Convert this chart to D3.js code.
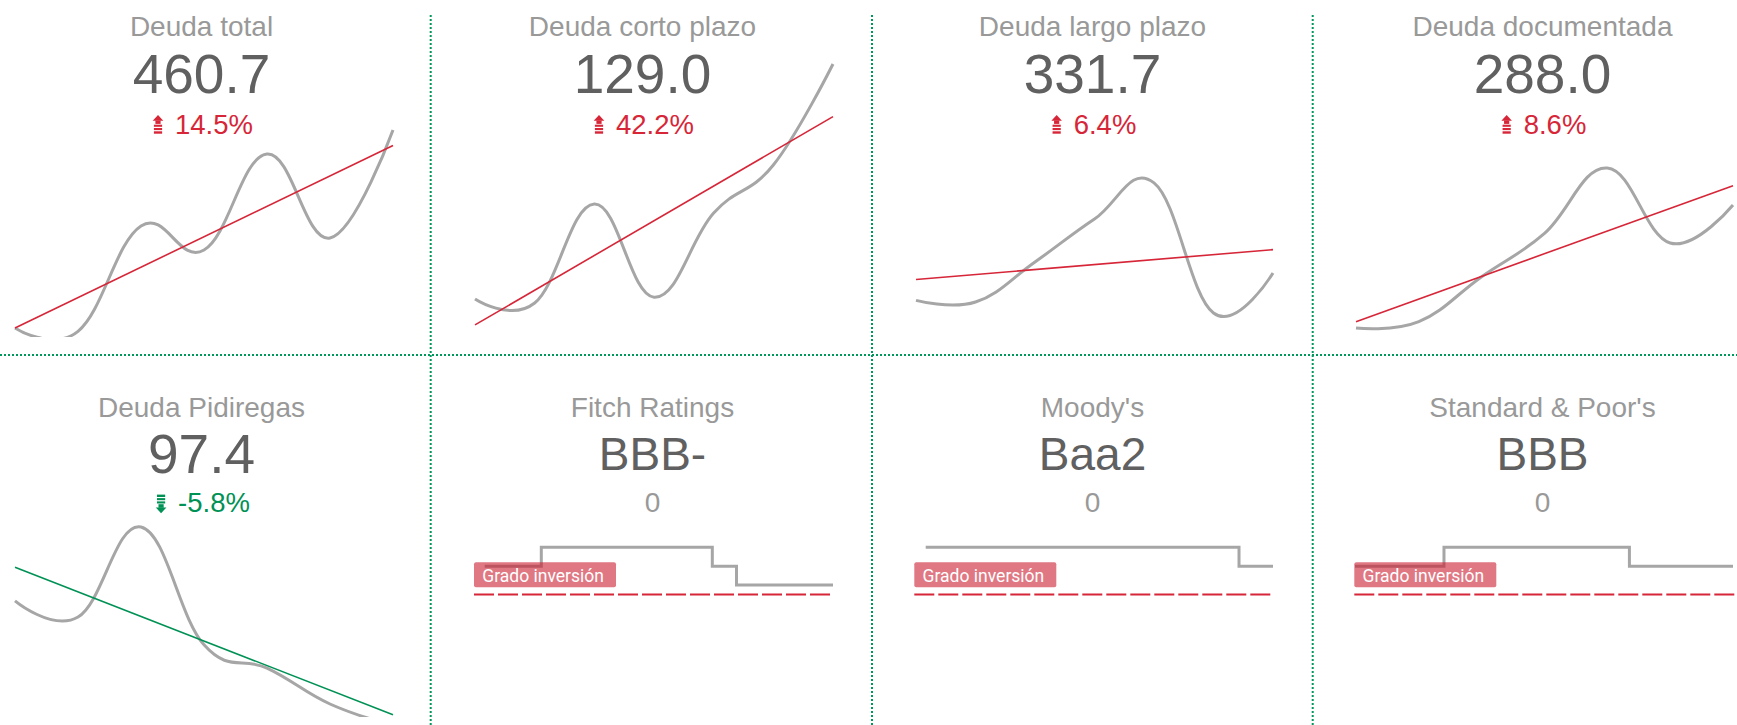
<!DOCTYPE html>
<html><head><meta charset="utf-8">
<script src="https://cdn.jsdelivr.net/npm/d3@7"></script>
<style>html,body{margin:0;padding:0;background:#fff;overflow:hidden}</style>
</head><body>
<svg id="c" width="1737" height="725"></svg>
<script>
// ---------- DATA ----------
const periodos = ["2017","2018","2019","2020","2021","2022","2023"];
const titulosDeuda = ["Deuda total","Deuda corto plazo","Deuda largo plazo","Deuda documentada","Deuda Pidiregas"];
const valoresActuales = ["460.7","129.0","331.7","288.0","97.4"];
const cambiosDeuda = ["14.5%","42.2%","6.4%","8.6%","-5.8%"];
const deudaTotal       = [353.8, 352.0, 408.9, 395.9, 447.7, 402.4, 460.7];
const deudaCortoPlazo  = [39.9, 38.4, 75.9, 40.6, 72.5, 90.7, 129.0];
const deudaLargoPlazo  = [318.0, 317.2, 337.2, 358.6, 376.6, 311.75, 331.7];
const deudaDocumentada = [214.2, 218.0, 245.0, 271.0, 310.2, 265.2, 288.0];
const deudaPidiregas   = [132.7, 128.1, 153.7, 120.2, 113.6, 103.4, 97.4];
const seriesDeuda = [deudaTotal, deudaCortoPlazo, deudaLargoPlazo, deudaDocumentada, deudaPidiregas];

const titulosCalif = ["Fitch Ratings","Moody's","Standard & Poor's"];
const califActual = ["BBB-","Baa2","BBB"];
const cambiosCalif = ["0","0","0"];
const fitchFechas  = ["2011-03-07","2013-03-25","2019-06-05","2020-04-20","2023-10-19"];
const fitchNotas   = ["BBB","BBB+","BBB","BBB-","BBB-"];
const moodysFechas = ["2011-03-07","2022-07-25","2023-10-19"];
const moodysNotas  = ["Baa1","Baa2","Baa2"];
const spFechas     = ["2011-03-07","2014-02-24","2020-05-04","2023-10-19"];
const spNotas      = ["BBB","BBB+","BBB","BBB"];
const escalaSyF = ["BBB-","BBB","BBB+"];     // levels 1..3
const escalaMoodys = ["Baa3","Baa2","Baa1"]; // levels 1..3
const umbralGrado = 0.5;
const etiquetaUmbral = "Grado inversión";
const fechasDominio = ["2011-03-07","2023-10-19"];

// ---------- LAYOUT / STYLE ----------
const W = 1737, H = 725;
const RED = "#d62638", GREEN = "#009155", GRAY = "#a6a6a6";
const SANS = "'Liberation Sans', Arial, Helvetica, sans-serif";
const filas = [
  {titulo:36.3, valor:93.3, cambio:133.5, base:336.5, corte:337},
  {titulo:416.7, valor:473.3, cambio:511.8, base:716.5, corte:717, calif:470, cero:512.3}
];
const panelesDeuda = [
  {fila:0, cx:201.5,  x0:15,   x1:393,  dom:[349.2,498.5]},
  {fila:0, cx:642.5,  x0:475,  x1:833,  dom:[25.7,130.5]},
  {fila:0, cx:1092.5, x0:916,  x1:1273, dom:[300.0,437.9]},
  {fila:0, cx:1542.5, x0:1356, x1:1733, dom:[209.1,375.0]},
  {fila:1, cx:201.5,  x0:15,   x1:393,  dom:[99.85,178.4]}
];
const panelesCalif = [
  {cx:652.5,  plot:[474,833],     serie:[484.7,833],  fechas:fitchFechas,  notas:fitchNotas,  escala:escalaSyF},
  {cx:1092.5, plot:[914.3,1273],  serie:[925.7,1273], fechas:moodysFechas, notas:moodysNotas, escala:escalaMoodys},
  {cx:1542.5, plot:[1354.3,1745], serie:[1355,1733],  fechas:spFechas,     notas:spNotas,     escala:escalaSyF}
];

const svg = d3.select("#c");
const defs = svg.append("defs");

// grid (dotted green separators)
const grid = svg.append("g").attr("stroke","#00995c").attr("stroke-width",2).attr("stroke-dasharray","2,2");
grid.append("line").attr("x1",0).attr("x2",W).attr("y1",355).attr("y2",355);
[430.7, 872, 1312.7].forEach(x => grid.append("line").attr("x1",x).attr("x2",x).attr("y1",15).attr("y2",H));

function icono(g, x, base, up, color) {
  const gi = g.append("g").attr("fill", color);
  if (up) {
    const t = base - 18.4;
    gi.append("path").attr("d", `M${x-0.3},${t+5.6}L${x+5},${t}L${x+10.3},${t+5.6}Z`);
    gi.append("rect").attr("x",x+2.4).attr("y",t+5.4).attr("width",5.2).attr("height",3.4);
    [[9.6,2.1],[12.9,2.1],[16.2,2.4]].forEach(([o,h]) => gi.append("rect").attr("x",x+0.9).attr("y",t+o).attr("width",8.2).attr("height",h));
  } else {
    const t = base - 17.2;
    [[0,2.4],[3.5,2.1],[6.8,2.1]].forEach(([o,h]) => gi.append("rect").attr("x",x+0.9).attr("y",t+o).attr("width",8.2).attr("height",h));
    gi.append("rect").attr("x",x+2.4).attr("y",t+9.6).attr("width",5.2).attr("height",3.6);
    gi.append("path").attr("d", `M${x-0.3},${t+12.9}L${x+5},${t+18.6}L${x+10.3},${t+12.9}Z`);
  }
}

function encabezado(cx, fila, titulo, valor, valSize, valBase) {
  svg.append("text").attr("x",cx).attr("y",fila.titulo).attr("text-anchor","middle")
    .attr("font-family",SANS).attr("font-size",28).attr("fill","#999").text(titulo);
  svg.append("text").attr("x",cx).attr("y",valBase).attr("text-anchor","middle")
    .attr("font-family",SANS).attr("font-size",valSize).attr("fill","#606060").text(valor);
}

// ---------- DEBT PANELS ----------
panelesDeuda.forEach((P, i) => {
  const fila = filas[P.fila];
  const datos = seriesDeuda[i];
  encabezado(P.cx, fila, titulosDeuda[i], valoresActuales[i], 55, fila.valor);

  const sube = !cambiosDeuda[i].startsWith("-");
  const color = sube ? RED : GREEN;
  const gc = svg.append("g");
  const txt = gc.append("text").attr("y",fila.cambio).attr("font-family",SANS).attr("font-size",27.5)
    .attr("fill",color).text(cambiosDeuda[i]);
  const w = txt.node().getComputedTextLength();
  const start = P.cx - (10 + 12 + w) / 2 + 1.5;
  txt.attr("x", start + 22);
  icono(gc, start, fila.cambio, sube, color);

  const x = d3.scalePoint().domain(periodos).range([P.x0, P.x1]);
  const y = d3.scaleLinear().domain(P.dom).range([fila.base, fila.base - 276.5]);
  const cid = "clip" + i;
  defs.append("clipPath").attr("id",cid).append("rect")
    .attr("x",P.x0 - 5).attr("y",fila.base - 330).attr("width",P.x1 - P.x0 + 10).attr("height",330 + (fila.corte - fila.base));
  const g = svg.append("g").attr("clip-path",`url(#${cid})`);
  const linea = d3.line().x((d,j) => x(periodos[j])).y(d => y(d)).curve(d3.curveCardinal.tension(-0.2));
  g.append("path").datum(datos).attr("d",linea).attr("fill","none").attr("stroke",GRAY)
    .attr("stroke-width",3).attr("stroke-linejoin","round").attr("stroke-linecap","butt");

  // least-squares trend line
  const n = datos.length, idx = d3.range(n);
  const mx = d3.mean(idx), my = d3.mean(datos);
  const pend = d3.sum(idx, j => (j - mx) * (datos[j] - my)) / d3.sum(idx, j => (j - mx) ** 2);
  const inter = my - pend * mx;
  const tendencia = [inter, inter + pend * (n - 1)];
  g.append("line")
    .attr("x1", x(periodos[0])).attr("y1", y(tendencia[0]))
    .attr("x2", x(periodos[n - 1])).attr("y2", y(tendencia[1]))
    .attr("stroke", color).attr("stroke-width", 1.6);
});

// ---------- RATING PANELS ----------
const parse = d3.timeParse("%Y-%m-%d");
const yCal = d3.scaleLinear().domain([umbralGrado, 3]).range([594.5, 547.35]);
panelesCalif.forEach((P, i) => {
  const fila = filas[1];
  encabezado(P.cx, fila, titulosCalif[i], califActual[i], 46, fila.calif);
  svg.append("text").attr("x",P.cx).attr("y",fila.cero).attr("text-anchor","middle")
    .attr("font-family",SANS).attr("font-size",28).attr("fill","#999").text(cambiosCalif[i]);

  const x = d3.scaleTime().domain(fechasDominio.map(parse)).range(P.serie);
  const pts = P.fechas.map((f, j) => ({d: parse(f), v: P.escala.indexOf(P.notas[j]) + 1}));
  const linea = d3.line().x(d => x(d.d)).y(d => yCal(d.v)).curve(d3.curveStepAfter);
  svg.append("path").datum(pts).attr("d",linea).attr("fill","none").attr("stroke",GRAY)
    .attr("stroke-width",3).attr("stroke-linejoin","miter");

  svg.append("line").attr("x1",P.plot[0]).attr("x2",P.plot[1])
    .attr("y1",yCal(umbralGrado)).attr("y2",yCal(umbralGrado))
    .attr("stroke",RED).attr("stroke-width",2).attr("stroke-dasharray","20,4");

  const yb = yCal(umbralGrado) - 32.2;
  svg.append("rect").attr("x",P.plot[0]).attr("y",yb).attr("width",142).attr("height",25).attr("rx",2)
    .attr("fill","rgba(204,30,48,0.6)");
  svg.append("text").attr("x",P.plot[0] + 8.3).attr("y",yb + 19.4)
    .attr("font-family","Roboto, sans-serif").attr("font-size",17.5).attr("fill","#fff").text(etiquetaUmbral);
});
</script>
</body></html>
